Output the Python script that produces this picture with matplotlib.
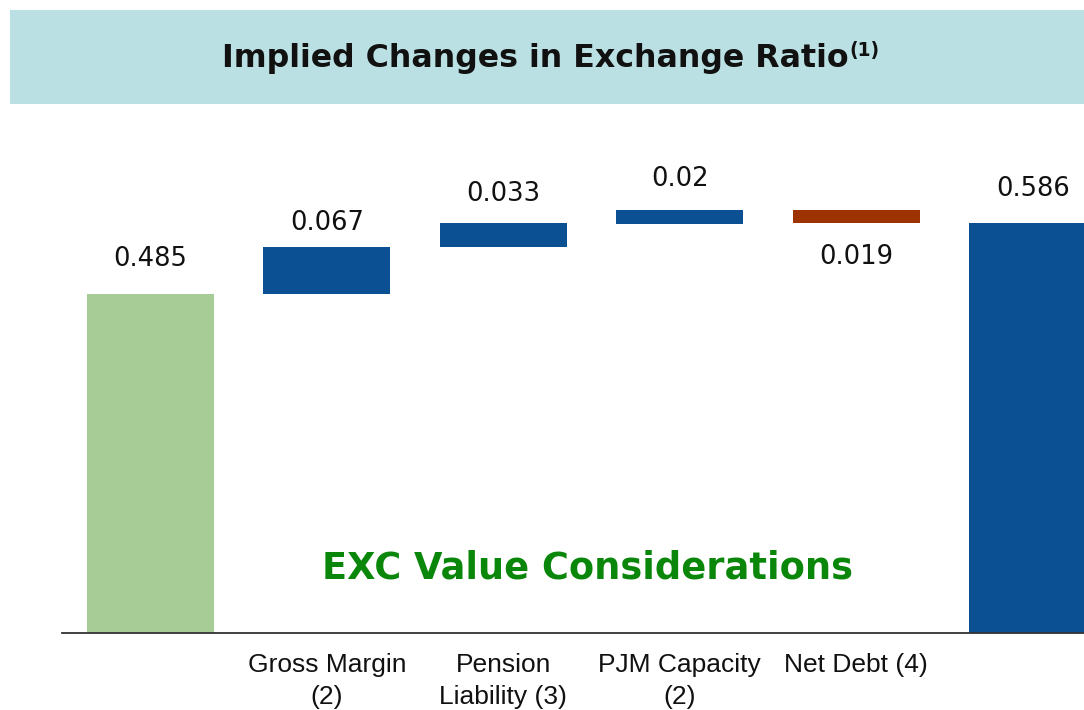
import matplotlib
matplotlib.use("Agg")
import matplotlib.pyplot as plt
from matplotlib.patches import Rectangle
import numpy as np

# ---- data ----
categories = ["", "Gross Margin\n(2)", "Pension\nLiability (3)", "PJM Capacity\n(2)", "Net Debt (4)", ""]
start_value = 0.485
deltas = [0.067, 0.033, 0.02, -0.019]
end_value = 0.586
value_labels = ["0.485", "0.067", "0.033", "0.02", "0.019", "0.586"]

# ---- style ----
C_GREEN = "#a8cc96"
C_BLUE = "#0b5092"
C_RED = "#9c3300"
C_TITLEBOX = "#bae0e3"
C_TEXTGREEN = "#0a870a"

W, H = 1084, 710
fig = plt.figure(figsize=(W / 100, H / 100), dpi=100)

# title box
fig.patches.append(Rectangle((10 / W, 1 - 104 / H), (1084 - 10) / W, 94 / H,
                             transform=fig.transFigure, facecolor=C_TITLEBOX,
                             edgecolor="none", zorder=0))
t = fig.text(535 / W, 1 - 59 / H, "Implied Changes in Exchange Ratio",
             ha="center", va="center", fontsize=22.8, fontweight="bold",
             family="DejaVu Sans", color="#111111")
fig.canvas.draw()
bb = t.get_window_extent()
fig.text(bb.x1 / W + 0.001, bb.y1 / H + 0.004, "(1)", ha="left", va="top",
         fontsize=13.5, fontweight="bold", family="DejaVu Sans", color="#111111")

ax = fig.add_axes([62 / W, 77 / H, (1084 - 62) / W, 525 / H])

x = np.arange(len(categories))
cum = start_value + np.cumsum(deltas)
prev = np.concatenate([[start_value], cum[:-1]])
bottoms = [0] + list(np.minimum(prev, cum)) + [0]
heights = [start_value] + list(np.abs(deltas)) + [end_value]
colors = [C_GREEN] + [C_BLUE if d >= 0 else C_RED for d in deltas] + [C_BLUE]

ax.bar(x, heights, bottom=bottoms, width=0.72, color=colors, edgecolor="none", zorder=2)

# value labels (offsets in pixels -> points)
offsets_px = [28, 17, 22, 24, 21, 27]
for i in range(len(x)):
    top = bottoms[i] + heights[i]
    if i == 4:
        ax.annotate(value_labels[i], (x[i], bottoms[i]), xytext=(0, -offsets_px[i] * 0.72),
                    textcoords="offset points", ha="center", va="top",
                    fontsize=18.6, family="DejaVu Sans", color="#111111")
    else:
        ax.annotate(value_labels[i], (x[i], top), xytext=(0, offsets_px[i] * 0.72),
                    textcoords="offset points", ha="center", va="baseline",
                    fontsize=18.6, family="DejaVu Sans", color="#111111")

ax.set_xlim(-0.5, 5.29)
ax.set_ylim(0, 0.75)
ax.set_xticks(x)
ax.set_xticklabels(categories, fontsize=19, family="Liberation Sans", color="#111111",
                   linespacing=1.4)
ax.tick_params(axis="x", length=0, pad=14.5)
ax.set_yticks([])
for s in ["top", "right", "left"]:
    ax.spines[s].set_visible(False)
ax.spines["bottom"].set_color("#333333")
ax.spines["bottom"].set_linewidth(1.3)

fig.text(587.5 / W, 1 - 568 / H, "EXC Value Considerations", ha="center", va="center",
         fontsize=26.5, fontweight="bold", family="DejaVu Sans", color=C_TEXTGREEN)

fig.savefig("out.png", dpi=100)
